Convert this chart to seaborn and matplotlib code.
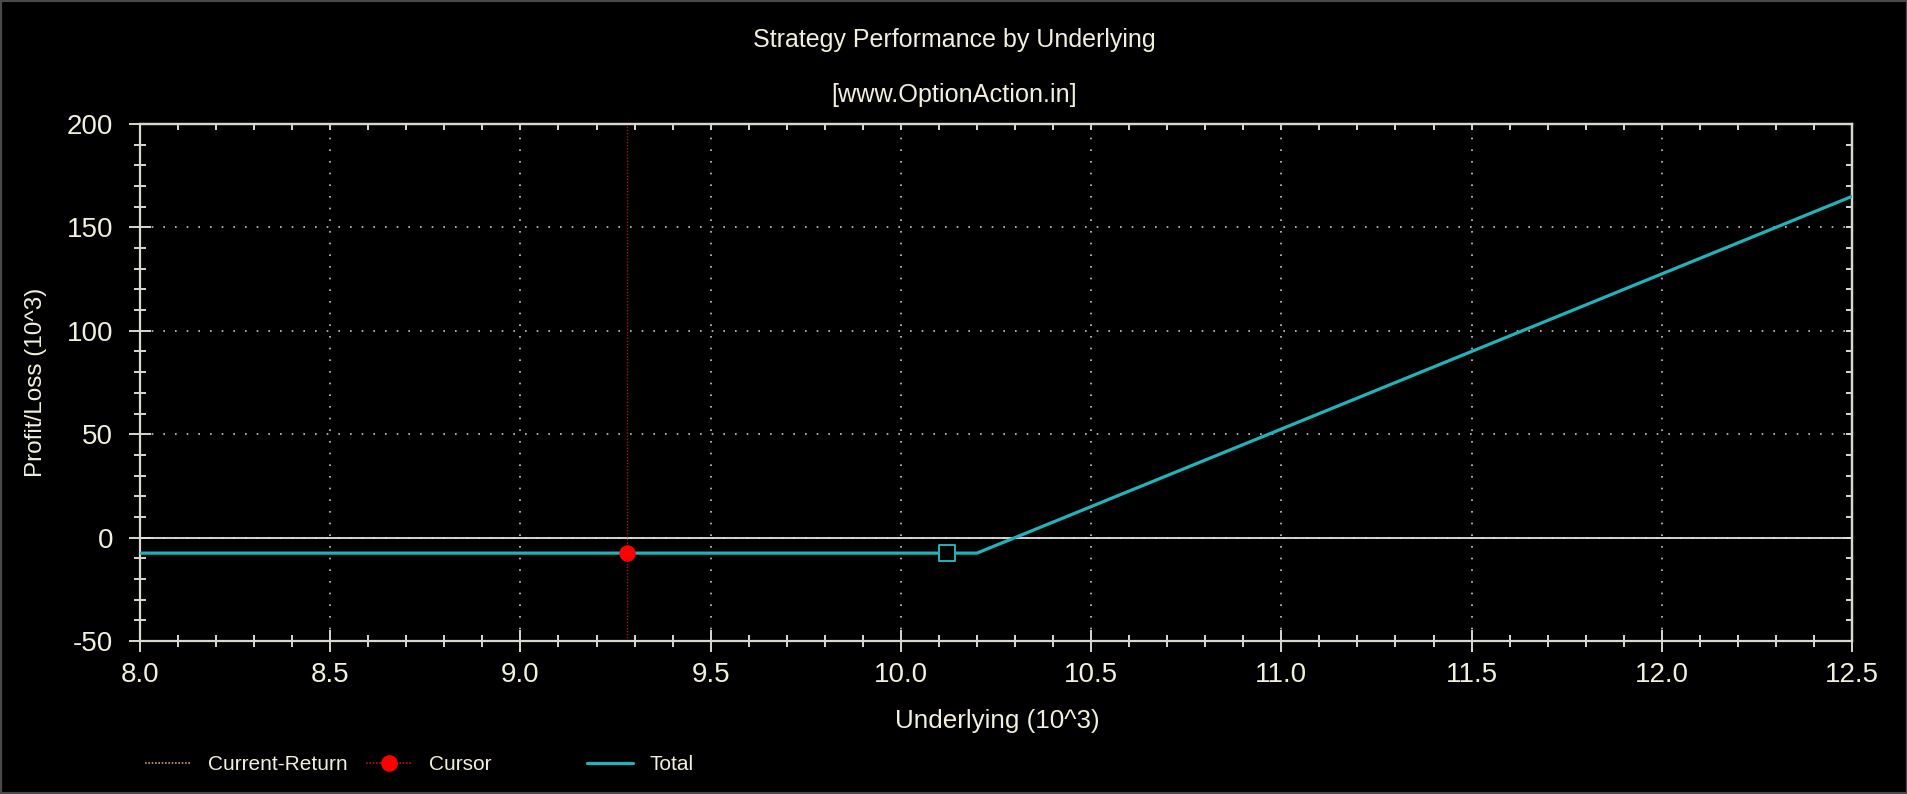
import numpy as np
import pandas as pd
import matplotlib
matplotlib.use("Agg")
import matplotlib.pyplot as plt
from matplotlib.lines import Line2D
from matplotlib.patches import Rectangle
from matplotlib.ticker import MultipleLocator, FormatStrFormatter
import seaborn as sns

# ---- data ----
underlying = [8.0, 10.2, 12.5]          # 10^3
total_pl = [-7.5, -7.5, 165.0]          # 10^3
cursor_x = [9.28]
cursor_y = [-7.5]
breakeven_marker_x = [10.12]
breakeven_marker_y = [-7.5]
current_price = 9.28

title = "Strategy Performance by Underlying"
subtitle = "[www.OptionAction.in]"
xlabel = "Underlying (10^3)"
ylabel = "Profit/Loss (10^3)"
legend_labels = ["Current-Return", "Cursor", "Total"]

# ---- style ----
TXT = "#f2f0dc"
SPINE = "#d8d8d0"
TEAL = "#22b3ba"
RED = "#ff0000"

sns.set_theme(style="dark", rc={
    "figure.facecolor": "black",
    "axes.facecolor": "black",
    "savefig.facecolor": "black",
})
plt.rcParams["font.family"] = ["Liberation Sans", "DejaVu Sans"]

W, H = 1908, 794
fig = plt.figure(figsize=(W / 100, H / 100), dpi=100)
L, R, T, B = 140, 1852, 124, 641
ax = fig.add_axes([L / W, 1 - B / H, (R - L) / W, (B - T) / H])
ax.set_facecolor("black")

df = pd.DataFrame({"Underlying": underlying, "Total": total_pl})

# zero line & cursor vertical line
ax.axhline(0, color="#e4e4e4", lw=1.3, zorder=2)
ax.axvline(current_price, color="#a01818", lw=1.0, ls=(0, (1, 1.2)), zorder=2)

sns.lineplot(data=df, x="Underlying", y="Total", ax=ax, color=TEAL, lw=2.3,
             zorder=3, legend=False)
sns.scatterplot(x=breakeven_marker_x, y=breakeven_marker_y, ax=ax, marker="s",
                s=130, facecolor="black", edgecolor=TEAL, linewidth=1.4, zorder=4)
sns.scatterplot(x=cursor_x, y=cursor_y, ax=ax, marker="o", s=140,
                color=RED, edgecolor=RED, linewidth=0, zorder=5)

ax.set_xlim(8.0, 12.5)
ax.set_ylim(-50, 200)
ax.xaxis.set_major_locator(MultipleLocator(0.5))
ax.xaxis.set_minor_locator(MultipleLocator(0.1))
ax.yaxis.set_major_locator(MultipleLocator(50))
ax.yaxis.set_minor_locator(MultipleLocator(10))
ax.xaxis.set_major_formatter(FormatStrFormatter("%.1f"))
ax.yaxis.set_major_formatter(FormatStrFormatter("%d"))

ax.grid(which="major", color="#c8c8c8", ls=(0, (1, 6)), lw=1.2)
ax.grid(which="minor", visible=False)
ax.set_axisbelow(True)

for s in ax.spines.values():
    s.set_visible(True)
    s.set_color(SPINE)
    s.set_linewidth(1.6)

ax.tick_params(axis="both", which="major", direction="inout", length=16,
               width=1.4, color=SPINE, labelcolor=TXT, labelsize=20)
ax.tick_params(axis="both", which="minor", direction="inout", length=8.5,
               width=1.4, color=SPINE)
ax.tick_params(axis="x", which="major", pad=7)
ax.tick_params(axis="y", which="major", pad=11.5)
ax.tick_params(bottom=True, left=True, top=False, right=False, which="both")

# inward ticks on top and right
secx = ax.secondary_xaxis("top")
secx.xaxis.set_major_locator(MultipleLocator(0.5))
secx.xaxis.set_minor_locator(MultipleLocator(0.1))
secx.tick_params(which="both", direction="in", length=4.5, width=1.4,
                 color=SPINE, labeltop=False)
secx.spines["top"].set_color(SPINE)
secx.spines["top"].set_linewidth(1.6)
secy = ax.secondary_yaxis("right")
secy.yaxis.set_major_locator(MultipleLocator(50))
secy.yaxis.set_minor_locator(MultipleLocator(10))
secy.tick_params(which="both", direction="in", length=4.5, width=1.4,
                 color=SPINE, labelright=False)
secy.spines["right"].set_color(SPINE)
secy.spines["right"].set_linewidth(1.6)

ax.set_xlabel("")
ax.set_ylabel("")
fig.text(997 / W, 1 - 721 / H, xlabel, color=TXT, fontsize=18.7,
         ha="center", va="center")
fig.text(36 / W, 1 - 382 / H, ylabel, color=TXT, fontsize=17.5,
         ha="center", va="center", rotation=90)
fig.text(954 / W, 1 - 40 / H, title, color=TXT, fontsize=18,
         ha="center", va="center")
fig.text(954 / W, 1 - 95 / H, subtitle, color=TXT, fontsize=18.2,
         ha="center", va="center")

# legend: three equally spaced entries
handles = [
    Line2D([], [], color="#c8a070", lw=1.2, ls=(0, (1, 1))),
    Line2D([], [], color="#b01818", lw=1.2, ls=(0, (1, 1)), marker="o",
           markersize=11, markerfacecolor=RED, markeredgecolor=RED),
    Line2D([], [], color=TEAL, lw=2.3),
]
starts = [145, 366, 587]
fs = 15
fpx = fs * 100 / 72
for h, lab, x0 in zip(handles, legend_labels, starts):
    leg = fig.legend([h], [lab], loc="center left",
                     bbox_to_anchor=(x0 / W, 1 - 765 / H),
                     frameon=False, fontsize=fs, borderpad=0, borderaxespad=0,
                     handlelength=46 / fpx, handletextpad=17 / fpx,
                     labelcolor=TXT)

fig.patches.append(Rectangle((0, 0), 1, 1, transform=fig.transFigure,
                             fill=False, ec="#4a4a4a", lw=3, zorder=10))

fig.savefig("out.png", dpi=100, facecolor="black")
